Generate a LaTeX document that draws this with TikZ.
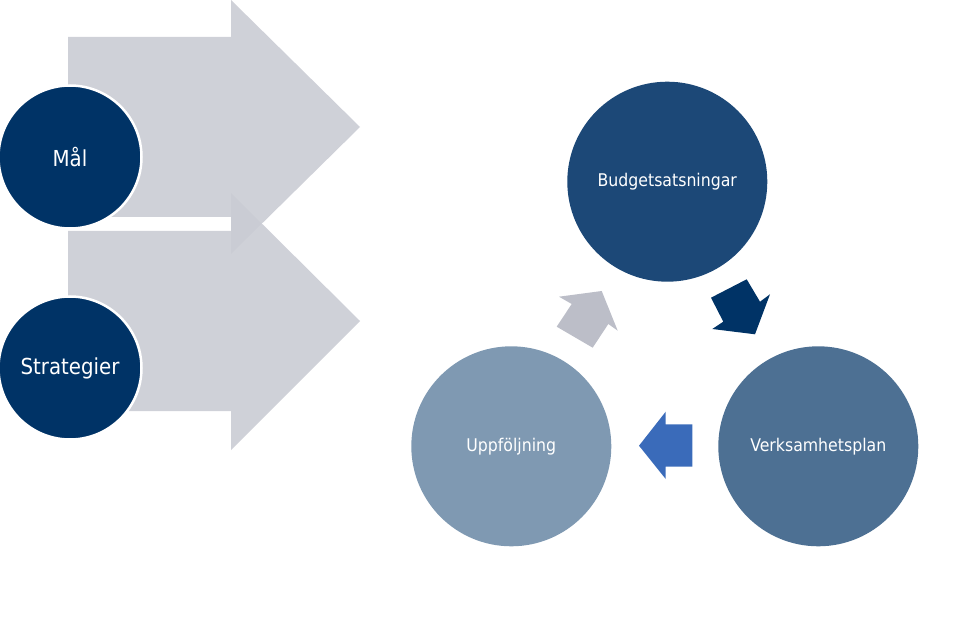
\documentclass[tikz,border=0pt]{standalone}
\usepackage{fontspec}
\setmainfont{DejaVu Sans Condensed}
\definecolor{biggray}{RGB}{202,204,212}
\definecolor{navy}{RGB}{0,51,102}
\definecolor{budget}{RGB}{28,72,119}
\definecolor{verks}{RGB}{77,112,147}
\definecolor{uppf}{RGB}{127,153,178}
\definecolor{smallgray}{RGB}{188,190,200}
\definecolor{smallblue}{RGB}{58,107,186}
\tikzset{
  bigarrow/.style={fill=biggray, fill opacity=0.9, draw=none},
  leftcirc/.style={circle, fill=navy, draw=white, line width=2.5pt, minimum size=143pt, inner sep=0pt, text=white, font=\fontsize{22}{25}\selectfont},
  cyclecirc/.style={circle, draw=none, minimum size=200pt, inner sep=0pt, text=white, font=\fontsize{17.5}{20}\selectfont},
}
\begin{document}
\begin{tikzpicture}[x=1pt,y=-1pt]
\useasboundingbox (0,0) rectangle (967,620);
% big arrows
\path[bigarrow] (68,37) -- (231,37) -- (231,0) -- (360,127) -- (231,254) -- (231,217) -- (68,217) -- cycle;
\path[bigarrow] (68,231) -- (231,231) -- (231,193) -- (360,321) -- (231,450) -- (231,411) -- (68,411) -- cycle;
% left circles
\node[leftcirc] (mal) at (70,157) {Mål};
\node[leftcirc] (strat) at (70,368) {Strategier};
% cycle circles
\node[cyclecirc, fill=budget] (budget) at (667.3,181.7) {Budgetsatsningar};
\node[cyclecirc, fill=verks] (verks) at (818.3,446.3) {Verksamhetsplan};
\node[cyclecirc, fill=uppf] (uppf) at (511.3,446.3) {Uppföljning};
% small arrows
\fill[navy] (711,297.7) -- (746.7,279.3) -- (760,301.7) -- (770,294.3) -- (755,334.3) -- (712.3,329) -- (723.3,321.7) -- cycle;
\fill[smallblue] (692.3,424.3) -- (665.7,424.3) -- (665.7,411.7) -- (639,445.7) -- (665.7,479) -- (665.7,466.7) -- (692.3,466.7) -- cycle;
\fill[smallgray] (559,296.7) -- (601.7,291) -- (617.7,330.7) -- (608.3,324) -- (592.7,347.7) -- (556.7,326.7) -- (571.7,304) -- cycle;
\end{tikzpicture}
\end{document}
